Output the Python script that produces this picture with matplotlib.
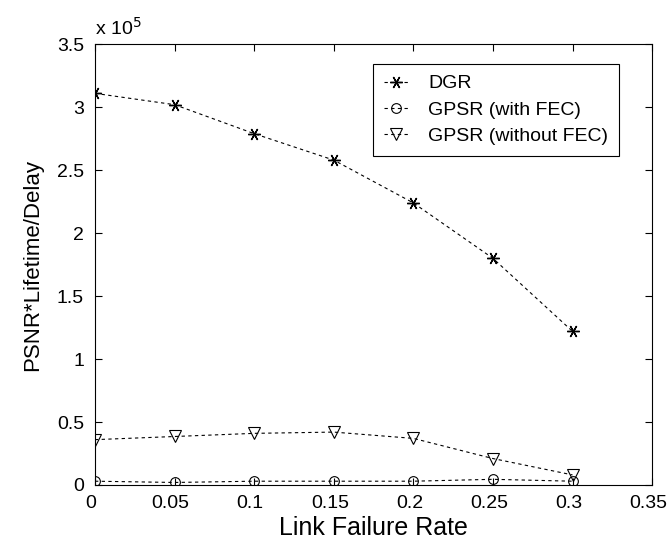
import numpy as np
import matplotlib
matplotlib.use('Agg')
import matplotlib.pyplot as plt
import matplotlib.transforms as mtransforms

plt.rcParams['font.family'] = ['Liberation Sans', 'DejaVu Sans']

rate = [0, 0.05, 0.1, 0.15, 0.2, 0.25, 0.3]
dgr = [3.11e5, 3.02e5, 2.79e5, 2.58e5, 2.24e5, 1.80e5, 1.22e5]
gpsr_fec = [0.03e5, 0.02e5, 0.03e5, 0.03e5, 0.03e5, 0.045e5, 0.03e5]
gpsr_nofec = [0.36e5, 0.385e5, 0.41e5, 0.42e5, 0.37e5, 0.21e5, 0.08e5]

scale = 1e5

fig = plt.figure(figsize=(6.68, 5.53), dpi=100)
ax = fig.add_axes([0.1422, 0.123, 0.834, 0.797])

ls = (0, (3, 3))
ax.plot(rate, np.array(dgr) / scale, color='black', linestyle=ls, linewidth=0.8,
        marker=(6, 2, 90), markersize=9, markeredgewidth=1.0, label='DGR')
ax.plot(rate, np.array(gpsr_fec) / scale, color='black', linestyle=ls, linewidth=0.8,
        marker='o', markersize=7, markerfacecolor='none', markeredgewidth=0.8,
        label='GPSR (with FEC)')
ax.plot(rate, np.array(gpsr_nofec) / scale, color='black', linestyle=ls, linewidth=0.8,
        marker='v', markersize=8, markerfacecolor='none', markeredgewidth=0.8,
        label='GPSR (without FEC)')

ax.set_xlim(0, 0.35)
ax.set_ylim(0, 3.5)
ax.set_xticks([0, 0.05, 0.1, 0.15, 0.2, 0.25, 0.3, 0.35])
ax.set_xticklabels(['0', '0.05', '0.1', '0.15', '0.2', '0.25', '0.3', '0.35'])
ax.set_yticks([0, 0.5, 1, 1.5, 2, 2.5, 3, 3.5])
ax.set_yticklabels(['0', '0.5', '1', '1.5', '2', '2.5', '3', '3.5'])
ax.tick_params(direction='in', top=True, right=True, length=5, width=0.8,
               labelsize=14)
ax.tick_params(axis='x', pad=7)
ax.tick_params(axis='y', pad=8)
for s in ax.spines.values():
    s.set_linewidth(0.8)

# MATLAB puts the x tick labels a touch left of the ticks
shift = mtransforms.ScaledTranslation(-4 / 100, 0, fig.dpi_scale_trans)
for lab in ax.get_xticklabels():
    lab.set_transform(lab.get_transform() + shift)

ax.set_xlabel('Link Failure Rate', fontsize=18, labelpad=3)
ax.set_ylabel('PSNR*Lifetime/Delay', fontsize=16, labelpad=10)
ax.text(0.0, 1.012, r'x 10$^{5}$', transform=ax.transAxes, fontsize=14,
        ha='left', va='bottom')

leg = ax.legend(loc='upper left', bbox_to_anchor=(0.499, 0.955), fontsize=14,
                fancybox=False, framealpha=1, edgecolor='black',
                handlelength=1.3, handletextpad=1.0, borderpad=0.55,
                labelspacing=0.45, borderaxespad=0)
leg.get_frame().set_linewidth(0.8)

plt.savefig('out.png', dpi=100)
